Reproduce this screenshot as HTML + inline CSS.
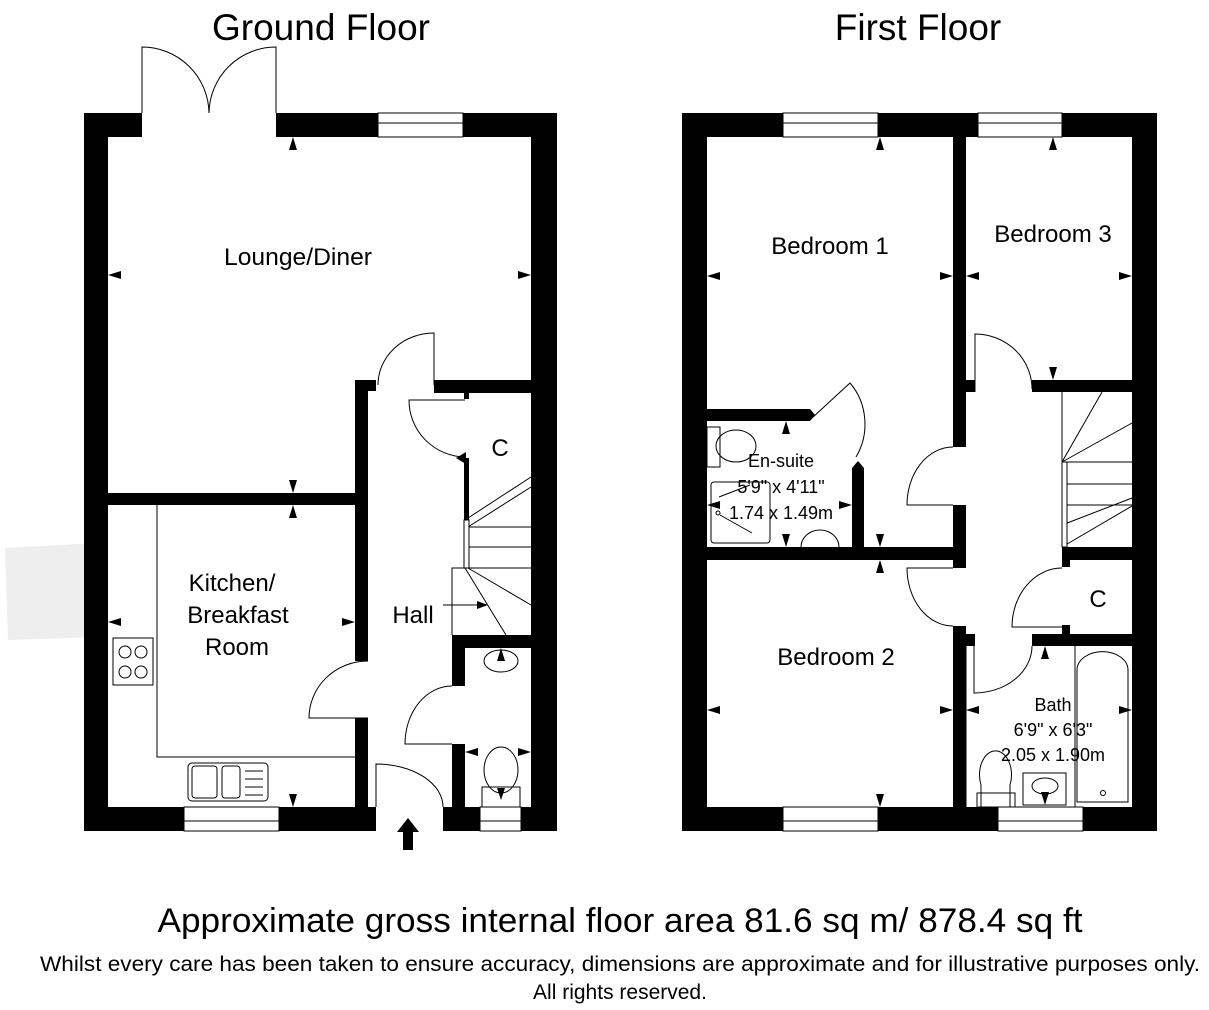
<!DOCTYPE html>
<html><head><meta charset="utf-8"><style>
html,body{margin:0;padding:0;background:#fff;}
svg{display:block;font-family:"Liberation Sans",Arial,sans-serif;}
</style></head><body>
<svg width="1209" height="1010" viewBox="0 0 1209 1010" xmlns="http://www.w3.org/2000/svg">
<rect width="1209" height="1010" fill="#fff"/>
<polygon points="5,548 95,543 100,637 8,640" fill="#eeeeee"/>

<text x="321" y="40" font-size="37" text-anchor="middle">Ground Floor</text>
<text x="918" y="40" font-size="37" text-anchor="middle">First Floor</text>

<g fill="#000">
<rect x="84" y="113" width="24" height="718"/>
<rect x="531" y="113" width="26" height="718"/>
<rect x="84" y="113" width="58" height="24"/>
<rect x="276" y="113" width="102" height="24"/>
<rect x="463" y="113" width="94" height="24"/>
<rect x="84" y="807" width="100" height="24"/>
<rect x="279" y="807" width="97" height="24"/>
<rect x="443" y="807" width="37" height="24"/>
<rect x="521" y="807" width="36" height="24"/>
<rect x="108" y="493" width="247" height="12"/>
<rect x="355" y="380" width="13" height="281"/>
<rect x="355" y="380" width="21" height="11"/>
<rect x="355" y="718" width="13" height="89"/>
<rect x="434" y="380" width="97" height="13"/>
<rect x="464" y="393" width="5" height="6"/>
<rect x="464" y="458" width="5" height="62"/>
<rect x="452" y="635" width="79" height="13"/>
<rect x="452" y="635" width="13" height="51"/>
<rect x="452" y="744" width="13" height="63"/>

<rect x="682" y="113" width="25" height="718"/>
<rect x="1132" y="113" width="25" height="718"/>
<rect x="682" y="113" width="101" height="24"/>
<rect x="878" y="113" width="100" height="24"/>
<rect x="1062" y="113" width="95" height="24"/>
<rect x="682" y="807" width="101" height="24"/>
<rect x="878" y="807" width="120" height="24"/>
<rect x="1083" y="807" width="74" height="24"/>
<rect x="953" y="137" width="13" height="310"/>
<rect x="953" y="505" width="13" height="63"/>
<rect x="953" y="626" width="13" height="181"/>
<rect x="966" y="380" width="9" height="12"/>
<rect x="1032" y="380" width="100" height="12"/>
<rect x="707" y="547" width="246" height="13"/>
<polygon points="707,409 810,409 815,415 810,421 707,421"/>
<polygon points="852,468 858,461 864,468 864,547 852,547"/>
<rect x="1062" y="547" width="70" height="13"/>
<rect x="1062" y="547" width="8" height="20"/>
<rect x="1062" y="625" width="8" height="10"/>
<rect x="1032" y="634" width="100" height="12"/>
<rect x="966" y="634" width="9" height="12"/>
</g>

<g fill="#fff" stroke="#000" stroke-width="1">
<rect x="378" y="113" width="85" height="24"/><line x1="378" y1="123" x2="463" y2="123"/>
<rect x="184" y="807" width="95" height="24"/><line x1="184" y1="821" x2="279" y2="821"/>
<rect x="480" y="807" width="41" height="24"/><line x1="480" y1="821" x2="521" y2="821"/>
<rect x="783" y="113" width="95" height="24"/><line x1="783" y1="123" x2="878" y2="123"/>
<rect x="978" y="113" width="84" height="24"/><line x1="978" y1="123" x2="1062" y2="123"/>
<rect x="783" y="807" width="95" height="24"/><line x1="783" y1="821" x2="878" y2="821"/>
<rect x="998" y="807" width="85" height="24"/><line x1="998" y1="821" x2="1083" y2="821"/>
</g>

<g fill="none" stroke="#000" stroke-width="1">
<path d="M142,113 L142,47 A67,67 0 0 1 209,113"/>
<path d="M276,113 L276,47 A67,67 0 0 0 209,113"/>
<path d="M434,385 L434,333 A56,52 0 0 0 378,385"/>
<path d="M465,400 L409,400 A57,57 0 0 0 465,457"/>
<path d="M368,718 L309,718 A59,57 0 0 1 368,661"/>
<path d="M452,744 L405,744 A47,58 0 0 1 452,686"/>
<path d="M376,807 L376,764 A67,43 0 0 1 443,807"/>
<path d="M157,505 L157,757 L355,757"/>
<rect x="113" y="638" width="40" height="47"/>
<circle cx="125" cy="652" r="6"/><circle cx="141" cy="652" r="6"/>
<circle cx="125" cy="672" r="6"/><circle cx="141" cy="672" r="6"/>
<rect x="188" y="763" width="80" height="38" rx="4"/>
<rect x="192" y="766" width="25" height="32" rx="3"/>
<rect x="222" y="766" width="18" height="32" rx="3"/>
<line x1="245" y1="771" x2="263" y2="771"/><line x1="245" y1="779" x2="263" y2="779"/><line x1="245" y1="787" x2="263" y2="787"/><line x1="245" y1="795" x2="263" y2="795"/>
<ellipse cx="501" cy="661" rx="17" ry="11"/>
<ellipse cx="501" cy="770" rx="17" ry="23"/>
<rect x="482" y="787" width="38" height="20"/>
<line x1="465" y1="520" x2="531" y2="477"/><line x1="468" y1="527" x2="531" y2="487"/>
<line x1="468" y1="527" x2="531" y2="527"/>
<line x1="468" y1="547" x2="531" y2="547"/>
<line x1="468" y1="568" x2="531" y2="568"/>
<path d="M452,635 L452,568 L468,568"/>
<line x1="465" y1="568" x2="506" y2="635"/>
<line x1="468" y1="568" x2="531" y2="605"/>
<rect x="464" y="520" width="5" height="48" fill="#fff"/>
<line x1="443" y1="605" x2="478" y2="605"/>

<path d="M975,392 L975,334 A57,55 0 0 1 1032,389"/>
<path d="M812,418 L850,383 A55,60 0 0 1 856,457"/>
<path d="M953,505 L907,505 A46,58 0 0 1 953,447"/>
<path d="M953,568 L907,568 A46,58 0 0 0 953,626"/>
<path d="M1062,627 L1012,627 A50,59 0 0 1 1062,568"/>
<path d="M974,646 L974,693 A58,47 0 0 0 1032,646"/>
<rect x="707" y="427" width="13" height="40"/>
<ellipse cx="736" cy="446" rx="20" ry="16"/>
<rect x="711" y="482" width="59" height="61" rx="3"/>
<circle cx="718" cy="513" r="2"/>
<line x1="719" y1="497" x2="750" y2="485"/><line x1="720" y1="515" x2="752" y2="533"/>
<path d="M801,547 A19,17 0 0 1 839,547"/>
<path d="M981,807 L981,785 A16,24 0 1 1 1010,785 L1010,807"/>
<rect x="977" y="793" width="38" height="14"/>
<rect x="1023" y="773" width="43" height="32"/>
<ellipse cx="1045" cy="786" rx="13" ry="8"/>
<path d="M1077,802 L1077,670 A25,18 0 0 1 1128,670 L1128,802 Z"/>
<circle cx="1103" cy="793" r="2.5"/>
<line x1="1075" y1="646" x2="1075" y2="807"/>
<line x1="1062" y1="392" x2="1062" y2="547"/>
<line x1="1062" y1="462" x2="1102" y2="392"/>
<line x1="1062" y1="462" x2="1132" y2="423"/>
<line x1="1062" y1="462" x2="1132" y2="462"/>
<line x1="1062" y1="484" x2="1132" y2="484"/>
<line x1="1062" y1="505" x2="1132" y2="505"/>
<line x1="1062" y1="525" x2="1132" y2="498"/>
<line x1="1062" y1="547" x2="1132" y2="506"/>
<rect x="1062" y="462" width="5" height="85" fill="#fff"/>
<line x1="966" y1="646" x2="966" y2="807"/>
</g>

<polygon points="408,818 419,832 413,832 413,850 403,850 403,832 397,832" fill="#000"/>

<g fill="#000">
<polygon points="293,137 289,150 297,150"/>
<polygon points="108,275 121,271 121,279"/>
<polygon points="531,275 518,271 518,279"/>
<polygon points="293,493 289,480 297,480"/>
<polygon points="293,505 289,518 297,518"/>
<polygon points="108,622 121,618 121,626"/>
<polygon points="355,622 342,618 342,626"/>
<polygon points="293,807 289,794 297,794"/>
<polygon points="456,458 466,452 466,464"/>
<polygon points="501,648 497,661 505,661"/>
<polygon points="465,752 478,748 478,756"/>
<polygon points="531,752 518,748 518,756"/>
<polygon points="501,800 497,788 505,788"/>
<polygon points="488,605 477,601 477,609"/>

<polygon points="880,137 876,150 884,150"/>
<polygon points="707,276 720,272 720,280"/>
<polygon points="953,276 940,272 940,280"/>
<polygon points="880,547 876,534 884,534"/>
<polygon points="880,560 876,573 884,573"/>
<polygon points="1053,137 1049,150 1057,150"/>
<polygon points="966,276 979,272 979,280"/>
<polygon points="1132,276 1119,272 1119,280"/>
<polygon points="1053,380 1049,367 1057,367"/>
<polygon points="786,421 782,434 790,434"/>
<polygon points="786,547 782,534 790,534"/>
<polygon points="707,505 720,501 720,509"/>
<polygon points="852,505 839,501 839,509"/>
<polygon points="707,710 720,706 720,714"/>
<polygon points="953,710 940,706 940,714"/>
<polygon points="880,807 876,794 884,794"/>
<polygon points="1045,646 1041,659 1049,659"/>
<polygon points="966,710 979,706 979,714"/>
<polygon points="1132,710 1119,706 1119,714"/>
<polygon points="1045,805 1041,792 1049,792"/>
</g>

<g font-size="24" text-anchor="middle" fill="#000">
<text x="298" y="265" textLength="148" lengthAdjust="spacingAndGlyphs">Lounge/Diner</text>
<text x="500" y="456">C</text>
<text x="232" y="591">Kitchen/</text>
<text x="238" y="623">Breakfast</text>
<text x="237" y="655">Room</text>
<text x="413" y="623">Hall</text>
<text x="830" y="254">Bedroom 1</text>
<text x="1053" y="242">Bedroom 3</text>
<text x="836" y="665">Bedroom 2</text>
<text x="1098" y="607">C</text>
</g>
<g font-size="18" text-anchor="middle" fill="#000">
<text x="781" y="467">En-suite</text>
<text x="781" y="493">5'9" x 4'11"</text>
<text x="781" y="519">1.74 x 1.49m</text>
<text x="1053" y="711">Bath</text>
<text x="1053" y="736">6'9" x 6'3"</text>
<text x="1053" y="761">2.05 x 1.90m</text>
</g>

<text x="620" y="932" font-size="34" text-anchor="middle" textLength="925" lengthAdjust="spacingAndGlyphs">Approximate gross internal floor area 81.6 sq m/ 878.4 sq ft</text>
<text x="620" y="971" font-size="21" text-anchor="middle" textLength="1160" lengthAdjust="spacingAndGlyphs">Whilst every care has been taken to ensure accuracy, dimensions are approximate and for illustrative purposes only.</text>
<text x="620" y="999" font-size="21" text-anchor="middle">All rights reserved.</text>
</svg>
</body></html>
